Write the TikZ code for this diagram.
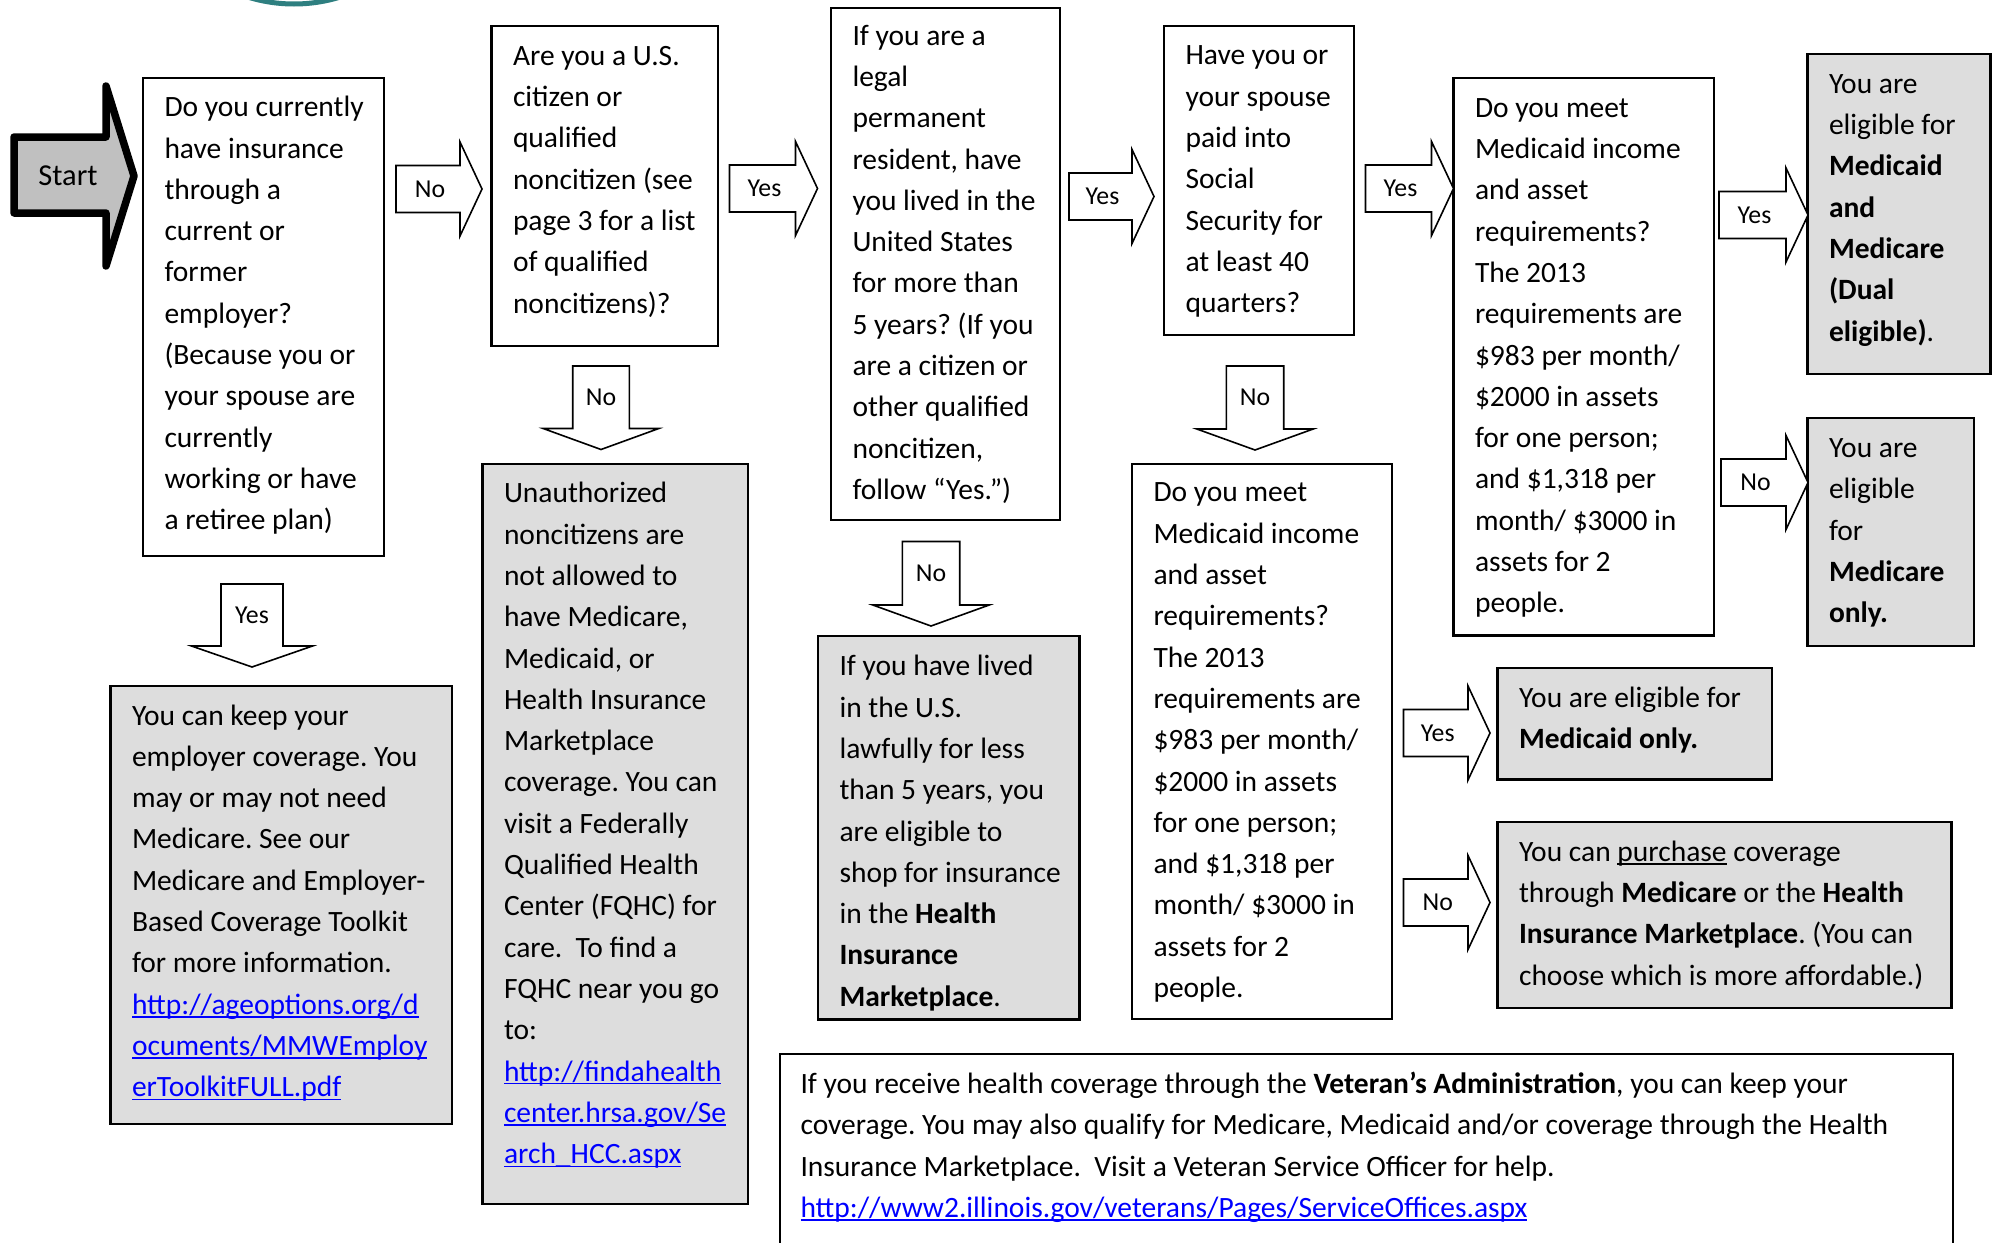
\documentclass[tikz,border=0pt]{standalone}
\usepackage{fontspec}
\setmainfont{Carlito}
\frenchspacing

\definecolor{boxgray}{HTML}{DDDDDD}
\definecolor{startgray}{HTML}{C0C0C0}
\definecolor{linkblue}{HTML}{0000FF}
\definecolor{logoteal}{HTML}{2E7F80}

\newcommand{\boxfont}{\fontsize{14.75}{20.65}\selectfont}
\newcommand{\tagfont}{\fontsize{12.9}{15}\selectfont}
% underline close to the baseline, as a word processor draws it
\newcommand{\undr}[1]{\setbox0\hbox{#1}\rlap{\rule[-1.7pt]{\wd0}{0.75pt}}\box0\relax}
\newcommand{\lnk}[1]{\textcolor{linkblue}{\undr{#1}}}
% lines of a box, raised by #1 (font's own word spaces, not the ragged ones)
\newcommand{\boxlines}[2][0pt]{\noindent\spaceskip=0pt\xspaceskip=0pt%
  \raisebox{#1}[\height][\depth]{\begin{tabular}{@{}l@{}}#2\end{tabular}}}

% block arrow pointing right: name, shaft left x, centre y, shaft length, label
\newcommand{\rarr}[5]{%
  \draw[barrow] (#2,#3-23.5) -- ++(#4,0) -- ++(0,-23.5) -- ++(22,47)
    -- ++(-22,47) -- ++(0,-23.5) -- ++(-#4,0) -- cycle;
  \node[atag] (#1) at (#2+#4/2+2,#3) {#5};}
% block arrow pointing down: name, centre x, shaft top y, shaft length, shaft half width, label
\newcommand{\darr}[6]{%
  \draw[barrow] (#2-#5,#3) -- ++(0,#4) -- ++(-29.5,0) -- ++(29.5+#5,21)
    -- ++(29.5+#5,-21) -- ++(-29.5,0) -- ++(0,-#4) -- cycle;
  \node[atag] (#1) at (#2,#3+#4/2) {#6};}

\tikzset{
  % box from its corners in pixels: x1/y1/x2/y2
  boxat/.code args={#1/#2/#3/#4}{%
    \pgfmathsetmacro\bxw{(#3-#1)/2}%
    \pgfmathsetmacro\bxh{(#4-#2)/2}%
    \pgfmathsetmacro\bxt{(#3-#1)/2-21.5}%
    \pgfmathsetmacro\bxcx{(#1+#3)/2}%
    \pgfmathsetmacro\bxcy{(#2+#4)/2}%
    \edef\bxopts{at={(\bxcx,\bxcy)}, minimum width=\bxw pt,
      minimum height=\bxh pt, text width=\bxt pt}%
    \expandafter\pgfkeysalso\expandafter{\bxopts}},
  qbox/.style={draw, line width=1.3pt, inner xsep=10.75pt, inner ysep=0pt,
    align=left, font=\boxfont},
  abox/.style={qbox, fill=boxgray},
  barrow/.style={draw, line width=0.8pt, fill=white, line join=miter},
  atag/.style={font=\tagfont, inner sep=0pt},
}

\begin{document}
\begin{tikzpicture}[x=0.5pt,y=-0.5pt]
\useasboundingbox (0,0) rectangle (1995,1242);
\clip (0,0) rectangle (1995,1242);

% logo edge at the top
\draw[logoteal, line width=2.5pt] (294,-152) circle (156);

% start
\draw[line width=3.75pt, line join=round, fill=startgray] (14,137) -- (106,137) -- (106,86)
  -- (134,176) -- (106,266) -- (106,213) -- (14,213) -- cycle;
\node[font=\fontsize{15.2}{18}\selectfont, inner sep=0pt] (start) at (68,176) {Start};

% questions
\node[qbox, boxat=143/78/384/556] (q1) {\boxlines[1pt]{Do you currently\\have insurance\\through a\\current or\\former\\employer?\\(Because you or\\your spouse are\\currently\\working or have\\a retiree plan)}};
\node[qbox, boxat=491.5/26/718/346] (q2) {\boxlines[2.5pt]{Are you a U.S.\\citizen or\\qualified\\noncitizen (see\\page 3 for a list\\of qualified\\noncitizens)?}};
\node[qbox, boxat=831/8/1060/520] (q3) {\boxlines{If you are a\\legal\\permanent\\resident, have\\you lived in the\\United States\\for more than\\5 years? (If you\\are a citizen or\\other qualified\\noncitizen,\\follow “Yes.”)}};
\node[qbox, boxat=1164/26/1354/335] (q4) {\boxlines{Have you or\\your spouse\\paid into\\Social\\Security for\\at least 40\\quarters?}};
\node[qbox, boxat=1453.5/78/1714/635.5] (q5) {\boxlines{Do you meet\\Medicaid income\\and asset\\requirements?\\The 2013\\requirements are\\\$983 per month/\\\$2000 in assets\\for one person;\\and \$1,318 per\\month/ \$3000 in\\assets for 2\\people.}};
\node[qbox, boxat=1132/464/1392/1019] (q6) {\boxlines{Do you meet\\Medicaid income\\and asset\\requirements?\\The 2013\\requirements are\\\$983 per month/\\\$2000 in assets\\for one person;\\and \$1,318 per\\month/ \$3000 in\\assets for 2\\people.}};

% answers
\node[abox, boxat=110.5/686/452/1124] (employer) {\boxlines[1.2pt]{You can keep your\\employer coverage. You\\may or may not need\\Medicare. See our\\Medicare and Employer-\\Based Coverage Toolkit\\for more information.\\\lnk{http://ageoptions.org/d}\\\lnk{ocuments/MMWEmploy}\\\lnk{erToolkitFULL.pdf}}};
\node[abox, boxat=482.5/464/748/1204] (unauth) {\boxlines[4.5pt]{Unauthorized\\noncitizens are\\not allowed to\\have Medicare,\\Medicaid, or\\Health Insurance\\Marketplace\\coverage. You can\\visit a Federally\\Qualified Health\\Center (FQHC) for\\care.\ \ To find a\\FQHC near you go\\to:\\\lnk{http://findahealth}\\\lnk{center.hrsa.gov/Se}\\\lnk{arch\_HCC.aspx}}};
\node[abox, boxat=818/636/1079.5/1019.5] (lessfive) {\boxlines[-2.5pt]{If you have lived\\in the U.S.\\lawfully for less\\than 5 years, you\\are eligible to\\shop for insurance\\in the \textbf{Health}\\\textbf{Insurance}\\\textbf{Marketplace}.}};
\node[abox, boxat=1807.5/54/1990.5/374] (dual) {\boxlines[2.5pt]{You are\\eligible for\\\textbf{Medicaid}\\\textbf{and}\\\textbf{Medicare}\\\textbf{(Dual}\\\textbf{eligible)}.}};
\node[abox, boxat=1807.5/418/1974/646] (medicare) {\boxlines{You are\\eligible\\for\\\textbf{Medicare}\\\textbf{only.}}};
\node[abox, boxat=1497.5/668/1772/779.5] (medicaid) {\boxlines[2pt]{You are eligible for\\\textbf{Medicaid only.}}};
\node[abox, boxat=1497.5/822/1951.5/1008] (purchase) {\boxlines{You can \undr{purchase} coverage\\through \textbf{Medicare} or the \textbf{Health}\\\textbf{Insurance Marketplace}. (You can\\choose which is more affordable.)}};
\node[qbox, boxat=780/1054/1953/1282, text width=566pt, inner xsep=10.25pt] (veteran) {\boxlines{If you receive health coverage through the \textbf{Veteran’s Administration}, you can keep your\\coverage. You may also qualify for Medicare, Medicaid and/or coverage through the Health\\Insurance Marketplace.\ \ Visit a Veteran Service Officer for help.\\\lnk{http://www2.illinois.gov/veterans/Pages/ServiceOffices.aspx}\\~}};

% arrows
\rarr{q1no}{396}{189}{64}{No}
\rarr{q2yes}{729.5}{188.5}{66}{Yes}
\rarr{q3yes}{1069}{196.5}{63}{Yes}
\rarr{q4yes}{1365.5}{188.5}{66}{Yes}
\rarr{q5yes}{1719}{215}{67}{Yes}
\rarr{q5no}{1721}{482.5}{65}{No}
\rarr{q6yes}{1403.5}{733}{64.5}{Yes}
\rarr{q6no}{1403.5}{902.5}{64.5}{No}
\darr{q1yes}{252}{584}{62}{31}{Yes}
\darr{q2no}{601}{366}{62.5}{28.3}{No}
\darr{q3no}{931}{541.5}{63.5}{28.7}{No}
\darr{q4no}{1255}{366}{63}{28.7}{No}

\end{tikzpicture}
\end{document}
